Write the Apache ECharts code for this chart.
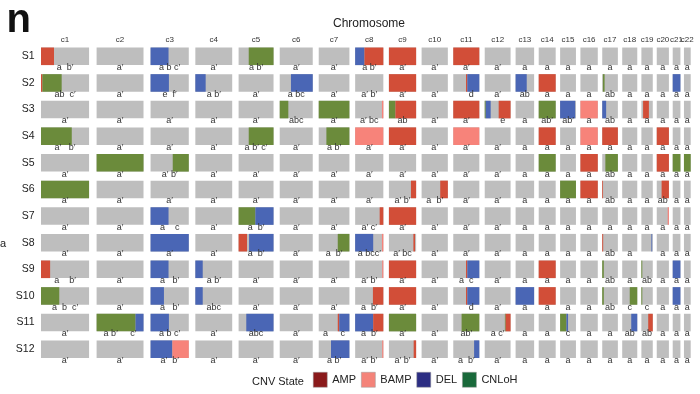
<!DOCTYPE html>
<html>
<head>
<meta charset="utf-8">
<script src="https://cdn.jsdelivr.net/npm/echarts@6/dist/echarts.min.js"></script>
<style>
  html, body { margin: 0; padding: 0; background: #fff; }
  #chart { width: 700px; height: 394px; }
</style>
</head>
<body>
<div id="chart"></div>
<script>
const FONT = "'Liberation Sans', Arial, sans-serif";

// samples (rows) and chromosomes (columns)
const samples = ['S1', 'S2', 'S3', 'S4', 'S5', 'S6', 'S7', 'S8', 'S9', 'S10', 'S11', 'S12'];
const chromNames = ['c1', 'c2', 'c3', 'c4', 'c5', 'c6', 'c7', 'c8', 'c9', 'c10', 'c11',
  'c12', 'c13', 'c14', 'c15', 'c16', 'c17', 'c18', 'c19', 'c20', 'c21', 'c22'];
// chromosome lengths (Mb, q-arm only for acrocentric ones)
const chromLen = [249, 243, 198, 191, 181, 171, 159, 146, 141, 136, 135,
  134, 96, 88, 82, 90, 81, 78, 59, 63, 40, 35];

const states = ['AMP', 'BAMP', 'DEL', 'CNLoH'];
const stateColors = ['#D24E38', '#F7837A', '#4A66B5', '#6B8B3B'];
const legendColors = ['#8A1A1B', '#F48379', '#2C2E83', '#19693A'];
const AMP = 0, BAMP = 1, DEL = 2, CN = 3;

// [sample, chromosome, start fraction, end fraction, state]
const segments = [
  [1, 1, 0, 0.27, AMP], [1, 3, 0, 0.47, DEL], [1, 5, 0.29, 1, CN], [1, 8, 0, 0.33, DEL],
  [1, 8, 0.33, 1, AMP], [1, 9, 0, 1, AMP], [1, 11, 0, 1, AMP],
  [2, 1, 0, 0.03, AMP], [2, 1, 0.03, 0.43, CN], [2, 3, 0, 0.48, DEL], [2, 4, 0, 0.28, DEL],
  [2, 6, 0.34, 1, DEL], [2, 9, 0, 1, AMP], [2, 11, 0.49, 0.54, AMP], [2, 11, 0.54, 1, DEL],
  [2, 13, 0, 0.6, DEL], [2, 14, 0, 1, AMP], [2, 17, 0.04, 0.15, CN], [2, 21, 0, 1, DEL],
  [3, 6, 0, 0.26, CN], [3, 7, 0, 1, CN], [3, 8, 0.95, 1, BAMP], [3, 9, 0, 0.24, CN],
  [3, 9, 0.24, 1, AMP], [3, 11, 0, 1, AMP], [3, 12, 0, 0.04, CN], [3, 12, 0.04, 0.23, DEL],
  [3, 12, 0.54, 1, AMP], [3, 14, 0, 1, CN], [3, 15, 0, 0.95, DEL], [3, 16, 0, 1, BAMP],
  [3, 17, 0, 0.25, DEL], [3, 19, 0.15, 0.66, AMP],
  [4, 1, 0, 0.64, CN], [4, 5, 0.29, 1, CN], [4, 7, 0.25, 1, CN], [4, 8, 0, 1, BAMP],
  [4, 9, 0, 1, AMP], [4, 11, 0, 1, BAMP], [4, 14, 0, 1, AMP], [4, 16, 0, 1, BAMP],
  [4, 17, 0, 1, AMP], [4, 20, 0, 1, AMP],
  [5, 2, 0, 1, CN], [5, 3, 0.58, 1, CN], [5, 14, 0, 1, CN], [5, 16, 0, 1, AMP],
  [5, 17, 0.2, 1, CN], [5, 20, 0, 1, AMP], [5, 21, 0, 1, CN], [5, 22, 0, 1, CN],
  [6, 1, 0, 1, CN], [6, 9, 0.81, 1, AMP], [6, 10, 0.71, 1, AMP], [6, 15, 0, 1, CN],
  [6, 16, 0, 1, AMP], [6, 17, 0, 0.05, AMP], [6, 20, 0.4, 1, AMP],
  [7, 3, 0, 0.47, DEL], [7, 5, 0, 0.48, CN], [7, 5, 0.48, 1, DEL], [7, 8, 0.87, 1, AMP],
  [7, 9, 0, 1, AMP], [7, 20, 0.9, 1, BAMP],
  [8, 3, 0, 1, DEL], [8, 5, 0, 0.24, AMP], [8, 5, 0.3, 1, DEL], [8, 7, 0.62, 1, CN],
  [8, 8, 0, 0.64, DEL], [8, 8, 0.95, 1, BAMP], [8, 9, 0.9, 0.96, AMP], [8, 17, 0, 0.06, AMP],
  [8, 19, 0.88, 0.94, DEL],
  [9, 1, 0, 0.19, AMP], [9, 3, 0, 0.47, DEL], [9, 4, 0, 0.2, DEL], [9, 8, 0.96, 1, BAMP],
  [9, 9, 0, 1, AMP], [9, 11, 0.49, 0.54, AMP], [9, 11, 0.54, 1, DEL], [9, 14, 0, 1, AMP],
  [9, 17, 0, 0.1, CN], [9, 19, 0, 0.08, CN], [9, 21, 0, 1, DEL],
  [10, 1, 0, 0.38, CN], [10, 3, 0, 0.35, DEL], [10, 4, 0, 0.2, DEL], [10, 8, 0.63, 1, AMP],
  [10, 9, 0, 1, AMP], [10, 11, 0.49, 0.54, AMP], [10, 11, 0.54, 1, DEL], [10, 13, 0, 1, DEL],
  [10, 14, 0, 1, AMP], [10, 17, 0, 0.1, CN], [10, 18, 0.5, 1, CN], [10, 19, 0, 0.08, CN],
  [10, 21, 0, 1, DEL],
  [11, 2, 0, 0.83, CN], [11, 2, 0.83, 1, DEL], [11, 3, 0, 0.48, DEL], [11, 5, 0.22, 1, DEL],
  [11, 7, 0.62, 0.67, AMP], [11, 7, 0.67, 1, DEL], [11, 8, 0, 0.64, DEL], [11, 8, 0.64, 1, AMP],
  [11, 9, 0, 1, CN], [11, 11, 0.32, 1, CN], [11, 12, 0.78, 0.81, CN], [11, 12, 0.81, 1, AMP],
  [11, 15, 0, 0.4, CN], [11, 15, 0.4, 0.5, DEL], [11, 18, 0.6, 1, DEL], [11, 19, 0.6, 1, AMP],
  [12, 3, 0, 0.57, DEL], [12, 3, 0.57, 1, BAMP], [12, 7, 0.4, 1, DEL], [12, 8, 0.96, 1, BAMP],
  [12, 9, 0.91, 1, AMP], [12, 11, 0.8, 1, DEL]
];

// segment letters under each cell, one row per sample
const cellLabels = [
  ['a  b′', 'a′', 'a b c′', 'a′', 'a b′', 'a′', 'a′', 'a b′', 'a′', 'a′', 'a′', 'a′', 'a', 'a', 'a', 'a', 'a', 'a', 'a', 'a', 'a', 'a'],
  ['ab  c′', 'a′', 'e  f′', 'a b′', 'a′', 'a bc', 'a′', 'a′ b′', 'a′', 'a′', '    d', 'a′', 'ab', 'a', 'a', 'a', 'ab', 'a', 'a', 'a', 'a', 'a'],
  ['a′', 'a′', 'a′', 'a′', 'a′', 'abc', 'a′', 'a′ bc', 'ab', 'a′', 'a′', '    e', 'a', 'ab′', 'ab′', 'a', 'ab', 'a', 'a', 'a', 'a', 'a'],
  ['a′   b′', 'a′', 'a′', 'a′', 'a b′ c′', 'a′', 'a b′', 'a′', 'a′', 'a′', 'a′', 'a′', 'a', 'a', 'a', 'a', 'a', 'a', 'a', 'a', 'a', 'a'],
  ['a′', 'a′', 'a′ b′', 'a′', 'a′', 'a′', 'a′', 'a′', 'a′', 'a′', 'a′', 'a′', 'a', 'a', 'a', 'a', 'ab', 'a', 'a', 'a', 'a', 'a'],
  ['a′', 'a′', 'a′', 'a′', 'a′', 'a′', 'a′', 'a′', 'a′ b′', 'a  b′', 'a′', 'a′', 'a', 'a', 'a', 'a', 'ab', 'a', 'a', 'ab', 'a', 'a'],
  ['a′', 'a′', 'a    c', 'a′', 'a  b′', 'a′', 'a′', 'a′ c′', 'a′', 'a′', 'a′', 'a′', 'a', 'a', 'a', 'a', 'a', 'a', 'a', 'a', 'a', 'a'],
  ['a′', 'a′', 'a′', 'a′', 'a  b′', 'a′', 'a  b′', 'a bcc′', 'a′ bc', 'a′', 'a′', 'a′', 'a', 'a', 'a', 'a', 'ab', 'a', '', 'a', 'a', 'a'],
  ['a    b′', 'a′', 'a   b′', 'a b′', 'a′', 'a′', 'a′', 'a′ b′', 'a′', 'a′', 'a  c', 'a′', 'a', 'a', 'a', 'a', 'ab', 'a', 'ab', 'a', 'a', 'a'],
  ['a  b  c′', 'a′', 'a   b′', 'abc', 'a′', 'a′', 'a′', 'a  b′', 'a′', 'a′', '    d', 'a′', 'a', 'a', 'a', 'a', 'ab', 'c', 'c', 'a', 'a', 'a'],
  ['a′', 'a b′     c′', 'a b c′', 'a′', 'abc', 'a′', 'a     c', 'a  b′', 'a′', 'a′', 'ab′', 'a c′', 'a', 'a', 'c', 'a', 'a', 'ab', 'ab', 'a', 'a', 'a'],
  ['a′', 'a′', 'a′  b′', 'a′', 'a′', 'a′', 'a b′', 'a′ b′', 'a′ b′', 'a′', 'a  b′', 'a′', 'a', 'a', 'a', 'a', 'a', 'a', 'a', 'a', 'a', 'a']
];

// chromosome start positions along the genome axis (panel padding 5% each side + gap)
const GAP = 14.5;
const chromStart = [];
let pos = 0;
chromLen.forEach((len, i) => {
  if (i > 0) pos += chromLen[i - 1] + 0.05 * (chromLen[i - 1] + len) + GAP;
  chromStart.push(pos);
});
const xMax = pos + chromLen[chromLen.length - 1];

const cellData = [];
const labelData = [];
const labelText = [];
samples.forEach((s, si) => {
  chromLen.forEach((len, ci) => {
    cellData.push([chromStart[ci], chromStart[ci] + len, si]);
    labelData.push([chromStart[ci] + len / 2, si]);
    labelText.push(cellLabels[si][ci]);
  });
});
const segData = segments.map(([s, c, a, b, st]) => {
  const x0 = chromStart[c - 1], len = chromLen[c - 1];
  return [x0 + a * len, x0 + b * len, s - 1, st];
});
const headerData = chromLen.map((len, ci) => [chromStart[ci] + len / 2, 0]);

const BAR_H = 0.66;

function rectItem(gray) {
  return function (params, api) {
    const y = api.value(2);
    const p0 = api.coord([api.value(0), y]);
    const p1 = api.coord([api.value(1), y]);
    const h = api.size([0, 1])[1] * BAR_H;
    return {
      type: 'rect',
      shape: { x: p0[0], y: p0[1] - h / 2, width: Math.max(p1[0] - p0[0], 0.8), height: h },
      style: { fill: gray ? '#BEBEBE' : stateColors[api.value(3)] }
    };
  };
}

const chart = echarts.init(document.getElementById('chart'));
chart.setOption({
  animation: false,
  grid: { left: 41, right: 9.3, top: 43, bottom: 31.5 },
  xAxis: { type: 'value', min: 0, max: xMax, show: false },
  yAxis: {
    type: 'category',
    data: samples,
    inverse: true,
    axisLine: { show: false },
    axisTick: { show: false },
    splitLine: { show: false },
    axisLabel: { fontSize: 10.5, color: '#222', margin: 6.5, fontFamily: FONT }
  },
  legend: {
    left: 313,
    top: 372,
    padding: 0,
    itemWidth: 14,
    itemHeight: 15,
    itemGap: 5,
    icon: 'rect',
    selectedMode: false,
    itemStyle: { borderColor: '#999', borderWidth: 0.5 },
    textStyle: { fontSize: 11, color: '#222', fontFamily: FONT },
    data: states
  },
  graphic: [
    { type: 'text', x: 6.5, y: 21, style: { text: 'n', font: `bold 40px ${FONT}`, fill: '#111', textVerticalAlign: 'middle' } },
    { type: 'text', x: 369, y: 24, style: { text: 'Chromosome', font: `12px ${FONT}`, fill: '#222', textAlign: 'center', textVerticalAlign: 'middle' } },
    { type: 'text', x: 252, y: 381.5, style: { text: 'CNV State', font: `11px ${FONT}`, fill: '#222', textVerticalAlign: 'middle' } },
    { type: 'text', x: 0, y: 244, style: { text: 'a', font: `11px ${FONT}`, fill: '#222', textVerticalAlign: 'middle' } }
  ],
  series: [
    {
      type: 'custom', name: 'cells', silent: true, z: 1,
      renderItem: rectItem(true),
      encode: { x: [0, 1], y: 2 },
      data: cellData
    },
    {
      type: 'custom', name: 'segments', silent: true, z: 2,
      renderItem: rectItem(false),
      encode: { x: [0, 1], y: 2 },
      data: segData
    },
    {
      type: 'custom', name: 'labels', silent: true, z: 3,
      renderItem: (params, api) => {
        const p = api.coord([api.value(0), api.value(1)]);
        return {
          type: 'text',
          x: p[0], y: p[1] + 11.3,
          style: {
            text: labelText[params.dataIndex], font: `9px ${FONT}`, fill: '#333',
            textAlign: 'center', textVerticalAlign: 'middle'
          }
        };
      },
      encode: { x: 0, y: 1 },
      data: labelData
    },
    {
      type: 'custom', name: 'headers', silent: true, z: 3,
      renderItem: (params, api) => {
        const p = api.coord([api.value(0), api.value(1)]);
        return {
          type: 'text',
          x: p[0], y: p[1] - 16.3,
          style: {
            text: chromNames[params.dataIndex], font: `8px ${FONT}`, fill: '#333',
            textAlign: 'center', textVerticalAlign: 'middle'
          }
        };
      },
      encode: { x: 0, y: 1 },
      data: headerData
    }
  ].concat(states.map((name, i) => ({
    type: 'bar', name: name, data: [], color: legendColors[i]
  })))
});
</script>
</body>
</html>
